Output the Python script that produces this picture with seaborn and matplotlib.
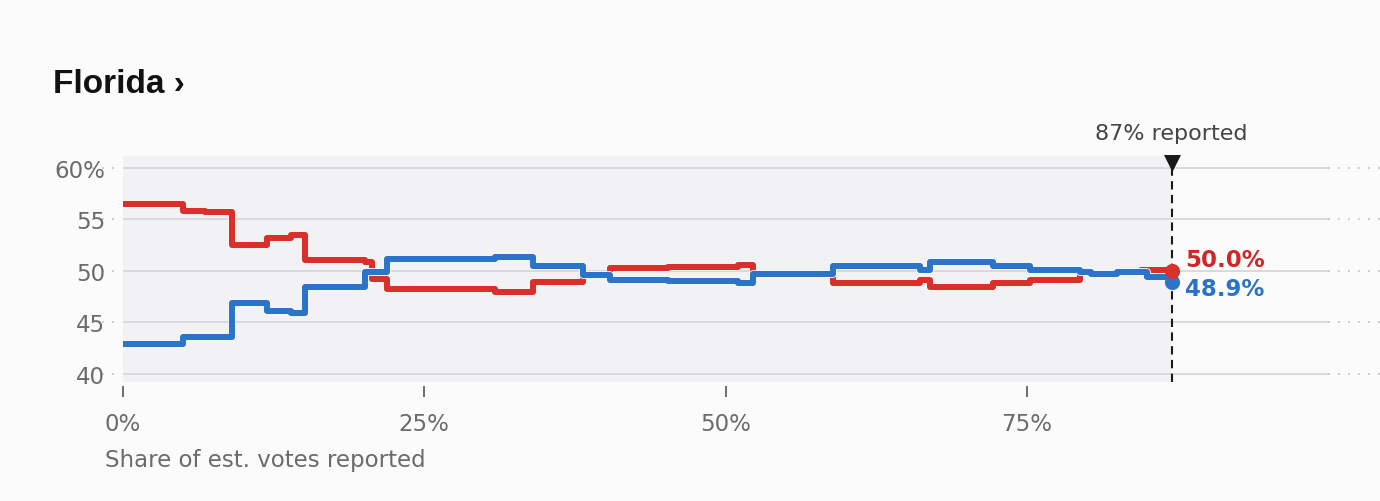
import numpy as np
import pandas as pd
import matplotlib
matplotlib.use("Agg")
import matplotlib.pyplot as plt
import matplotlib.patheffects as pe
import seaborn as sns

# share of estimated votes reported (%) at each step
reported = [0, 5.0, 6.8, 9.05, 11.95, 13.9, 15.1, 20.1, 20.7, 21.9, 30.9, 34.0,
            38.2, 40.4, 45.2, 51.0, 52.3, 58.9, 66.1, 67.0, 72.2, 75.3, 79.4,
            80.3, 82.5, 84.5, 85.0, 87.0]
rep_share = [56.5, 55.85, 55.7, 52.55, 53.2, 53.45, 51.1, 50.9, 49.2, 48.25, 48.0, 48.95,
             49.65, 50.3, 50.4, 50.6, 49.75, 48.85, 49.15, 48.45, 48.8, 49.15, 49.85,
             49.7, 49.9, 50.05, 50.05, 50.0]
dem_share = [42.9, 43.55, 43.6, 46.85, 46.15, 45.95, 48.4, 49.9, 49.9, 51.15, 51.4, 50.45,
             49.65, 49.1, 49.0, 48.8, 49.75, 50.5, 50.1, 50.85, 50.5, 50.1, 49.85,
             49.7, 49.9, 49.9, 49.4, 48.9]
y_ticks = [40, 45, 50, 55, 60]
y_labels = ["40", "45", "50", "55", "60%"]
x_ticks = [0, 25, 50, 75]
x_labels = ["0%", "25%", "50%", "75%"]
pct_reported = 87
rep_final = 50.0
dem_final = 48.9

RED = "#d9302c"
BLUE = "#2b74c8"
BG = "#fbfbfc"
PANEL = "#f2f2f4"

df = pd.DataFrame({
    "reported": reported * 2,
    "share": rep_share + dem_share,
    "party": ["rep"] * len(reported) + ["dem"] * len(reported),
})

fig = plt.figure(figsize=(13.8, 5.02), dpi=100, facecolor=BG)
ax = fig.add_axes([123 / 1380, 1 - 387 / 502, 1 - 123 / 1380, 237 / 502])
ax.set_facecolor(BG)
ax.set_xlim(0, 104.3)
ax.set_ylim(38.83, 61.84)

# grey panel for the reported part
ax.fill_between([0, pct_reported], 39.2, 61.2, color=PANEL, zorder=0, lw=0)

# gridlines
ax.hlines(y_ticks, 0, 100, color="#d4d4d6", lw=1.2, zorder=1)
ax.hlines(y_ticks, 100, 104.3, color="#bdbdc0", lw=1.2, linestyles=(0, (1, 5)), zorder=1)
ax.hlines(y_ticks, -2.6, -0.5, color="#bdbdc0", lw=1.2, linestyles=(0, (1, 5)),
          zorder=1, clip_on=False)

sns.lineplot(data=df, x="reported", y="share", hue="party", hue_order=["rep", "dem"],
             palette={"rep": RED, "dem": BLUE}, drawstyle="steps-post",
             estimator=None, sort=False, legend=False, linewidth=4.4, ax=ax, zorder=3,
             path_effects=[pe.Stroke(linewidth=5.6, foreground="white"), pe.Normal()])

# reported marker
ax.vlines(pct_reported, 39.2, 60.1, colors="#1a1a1a", lw=1.5,
          linestyles=(0, (4, 2.6)), zorder=4)
ax.scatter([pct_reported], [60.45], marker="v", s=150, color="#1a1a1a",
           zorder=5, clip_on=False, linewidths=0)
ax.text(pct_reported, 62.8, f"{pct_reported}% reported", ha="center", va="baseline",
        fontsize=16, color="#444444")

# end dots and labels
ax.scatter([pct_reported], [dem_final], s=120, color=BLUE, zorder=6, linewidths=0)
ax.scatter([pct_reported], [rep_final], s=120, color=RED, zorder=7, linewidths=0)
ax.text(88.1, 51.15, f"{rep_final:.1f}%", color="#d02626", fontsize=16.5,
        weight="bold", va="center", ha="left")
ax.text(88.1, 48.25, f"{dem_final:.1f}%", color="#2a72c6", fontsize=16.5,
        weight="bold", va="center", ha="left")

# axes
ax.set_yticks(y_ticks, y_labels)
ax.set_xticks(x_ticks, x_labels)
ax.tick_params(axis="y", length=0, pad=13, labelsize=16.5, labelcolor="#6b6b6b")
ax.tick_params(axis="x", length=8, width=1.2, color="#555555", pad=11,
               labelsize=16.5, labelcolor="#6b6b6b")
for s in ax.spines.values():
    s.set_visible(False)
ax.set_xlabel("")
ax.set_ylabel("")

fig.text(105 / 1380, 1 - 467 / 502, "Share of est. votes reported", fontsize=16.5,
         color="#6b6b6b", va="baseline", ha="left")
fig.text(53 / 1380, 1 - 93 / 502, "Florida \u203a", fontsize=24, weight="bold",
         family=["Liberation Sans", "DejaVu Sans"], color="#111111",
         va="baseline", ha="left")

fig.savefig("out.png", dpi=100, facecolor=BG)
